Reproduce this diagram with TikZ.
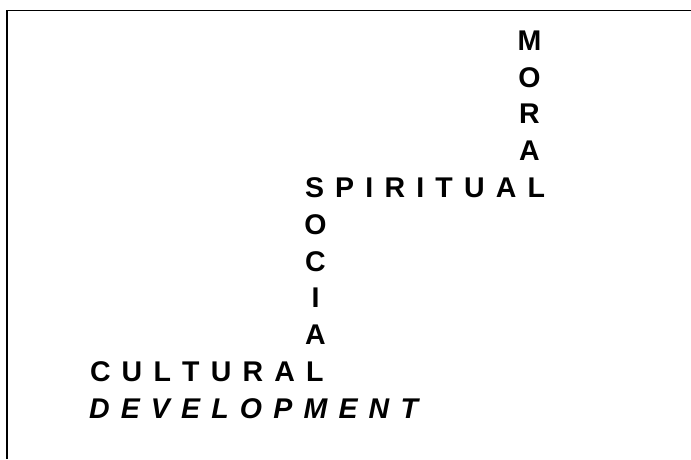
\documentclass[tikz,border=0pt]{standalone}
\usepackage{fontspec}
\setmainfont{Liberation Sans}
\newcommand{\ls}{\kern11.2pt}
\begin{document}
\begin{tikzpicture}[x=1pt,y=-1pt,
  word/.style={inner sep=0pt,outer sep=0pt,anchor=base west,font=\fontsize{28.5}{28.5}\selectfont\bfseries},
  letter/.style={inner sep=0pt,outer sep=0pt,anchor=base,font=\fontsize{28.5}{28.5}\selectfont\bfseries},
  frame/.style={line width=1.8pt,draw=black}]
\useasboundingbox (0,0) rectangle (691,459);
\draw[frame] (7,459) -- (7,10.5) -- (691,10.5);
% MORAL (vertical)
\node[letter] (m1) at (529.5,50.2) {M};
\node[letter] (m2) at (529.5,87) {O};
\node[letter] (m3) at (529.5,123.8) {R};
\node[letter] (m4) at (529.5,160.6) {A};
% SPIRITUAL (horizontal, its last L closes MORAL)
\node[word] (spiritual) at (305,197.4) {S\ls P\ls I\ls R\ls I\ls T\ls U\ls A\ls L};
% SOCIAL (vertical, its S is SPIRITUAL's S)
\node[letter] (s2) at (315.5,234.2) {O};
\node[letter] (s3) at (315.5,271) {C};
\node[letter] (s4) at (315.5,307.8) {I};
\node[letter] (s5) at (315.5,344.6) {A};
% CULTURAL (horizontal, its last L closes SOCIAL)
\node[word] (cultural) at (90,381.4) {C\ls U\ls L\ls T\ls U\ls R\ls A\ls L};
% DEVELOPMENT
\node[word,font=\fontsize{28.5}{28.5}\selectfont\bfseries\itshape] (development) at (89,418.2) {D\ls E\ls V\ls E\ls L\ls O\ls P\ls M\ls E\ls N\ls T};
\end{tikzpicture}
\end{document}
